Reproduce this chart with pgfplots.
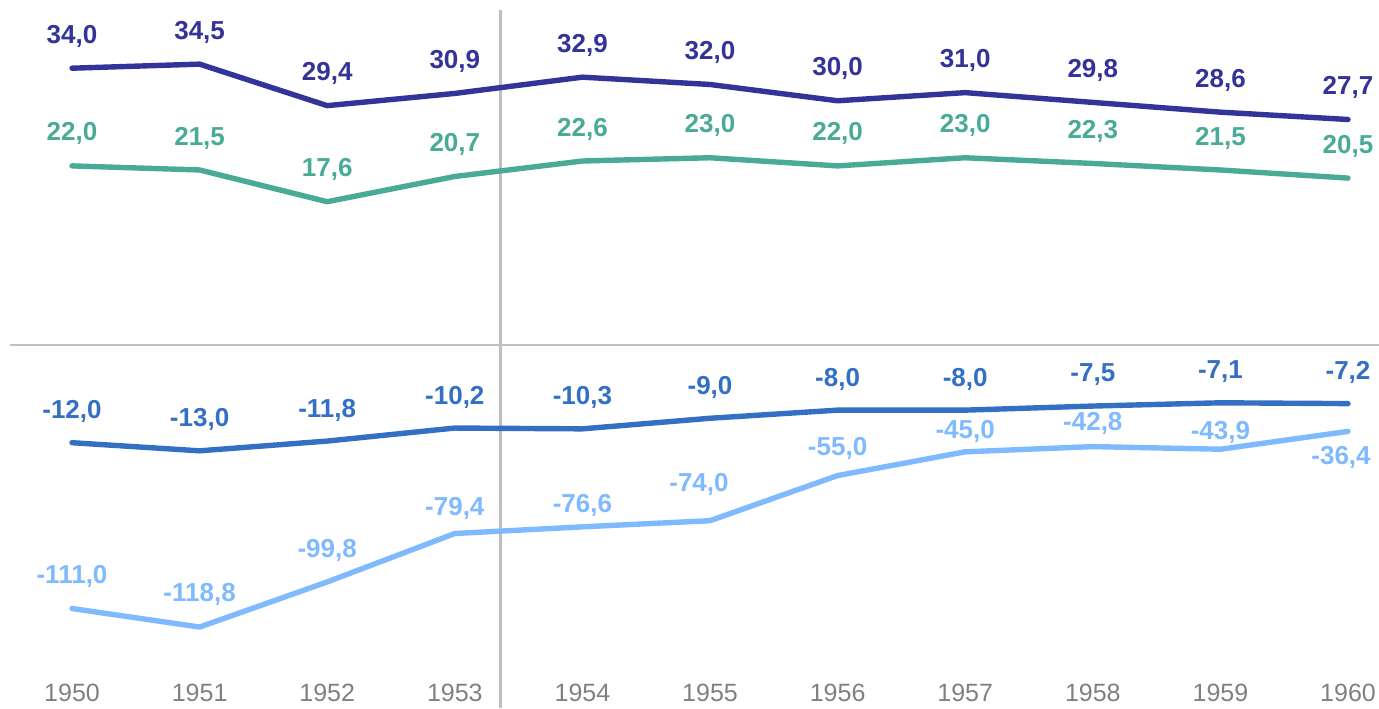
\documentclass[border=0pt]{standalone}
\usepackage{pgfplots}
\pgfplotsset{compat=1.18}
\usepackage{fontspec}
\setmainfont{Liberation Sans}
\definecolor{navy}{RGB}{51,51,153}
\definecolor{teal2}{RGB}{73,171,151}
\definecolor{blue2}{RGB}{51,112,196}
\definecolor{lblue}{RGB}{127,186,255}
\definecolor{gridgray}{RGB}{191,191,191}
\definecolor{tickgray}{RGB}{128,128,128}
\begin{document}
\begin{tikzpicture}
\pgfplotsset{
  common/.style={
    scale only axis, width=684.5pt, height=349pt,
    xmin=1949.514, xmax=1960.243,
    clip=false,
    /pgf/number format/.cd, fixed, fixed zerofill, precision=1, use comma, 1000 sep={}, assume math mode=true,
    /pgfplots/.cd,
  },
  lab/.style={nodes near coords, point meta=y,
    every node near coord/.append style={font=\fontsize{13}{15}\selectfont\bfseries, anchor=center, text=#1}},
}
\begin{axis}[common,
  ymin=-44.59, ymax=41.15,
  axis line style={draw=none},
  major tick length=0pt,
  xtick={1950,1951,1952,1953,1954,1955,1956,1957,1958,1959,1960},
  xticklabels={1950,1951,1952,1953,1954,1955,1956,1957,1958,1959,1960},
  xticklabel style={font=\fontsize{12.5}{14}\selectfont, text=tickgray, anchor=center, yshift=7.65pt},
  ytick=\empty,
]
\coordinate (sw) at (rel axis cs:0,0);
\coordinate (ne) at (rel axis cs:1,1);
\draw[gridgray, line width=1pt] (axis cs:1949.514,0) -- (axis cs:1960.243,0);
\draw[gridgray, line width=1.5pt] (axis cs:1953.36,-44.59) -- (axis cs:1953.36,41.15);
\addplot[navy, line width=2.7pt, line cap=round, line join=round, lab=navy,
  every node near coord/.append style={yshift=16pt}] coordinates {
(1950,34.0) (1951,34.5) (1952,29.4) (1953,30.9) (1954,32.9) (1955,32.0)
(1956,30.0) (1957,31.0) (1958,29.8) (1959,28.6) (1960,27.7)};
\addplot[teal2, line width=2.7pt, line cap=round, line join=round, lab=teal2,
  every node near coord/.append style={yshift=16pt}] coordinates {
(1950,22.0) (1951,21.5) (1952,17.6) (1953,20.7) (1954,22.6) (1955,23.0)
(1956,22.0) (1957,23.0) (1958,22.3) (1959,21.5) (1960,20.5)};
\addplot[blue2, line width=2.7pt, line cap=round, line join=round, lab=blue2,
  every node near coord/.append style={yshift=15.5pt}] coordinates {
(1950,-12.0) (1951,-13.0) (1952,-11.8) (1953,-10.2) (1954,-10.3) (1955,-9.0)
(1956,-8.0) (1957,-8.0) (1958,-7.5) (1959,-7.1) (1960,-7.2)};
\end{axis}
\begin{axis}[common,
  ymin=-152.9, ymax=141.1,
  axis lines=none, xtick=\empty, ytick=\empty,
]
\addplot[lblue, line width=2.7pt, line cap=round, line join=round, lab=lblue,
  visualization depends on={value \thisrow{dy} \as \dy},
  visualization depends on={value \thisrow{dx} \as \dx},
  every node near coord/.append style={yshift=\dy pt, xshift=\dx pt}] table {
x y dy dx
1950 -111.0 15.8 0
1951 -118.8 16.5 0
1952 -99.8 16 0
1953 -79.4 12.3 0
1954 -76.6 10.5 0
1955 -74.0 18.3 -5.5
1956 -55.0 13.8 0
1957 -45.0 10 0
1958 -42.8 11.5 0
1959 -43.9 8.5 0
1960 -36.4 -13 -3.5
};
\end{axis}
\pgfresetboundingbox
\path[use as bounding box] ([xshift=-5pt]sw) rectangle ([yshift=5pt]ne);
\end{tikzpicture}
\end{document}
